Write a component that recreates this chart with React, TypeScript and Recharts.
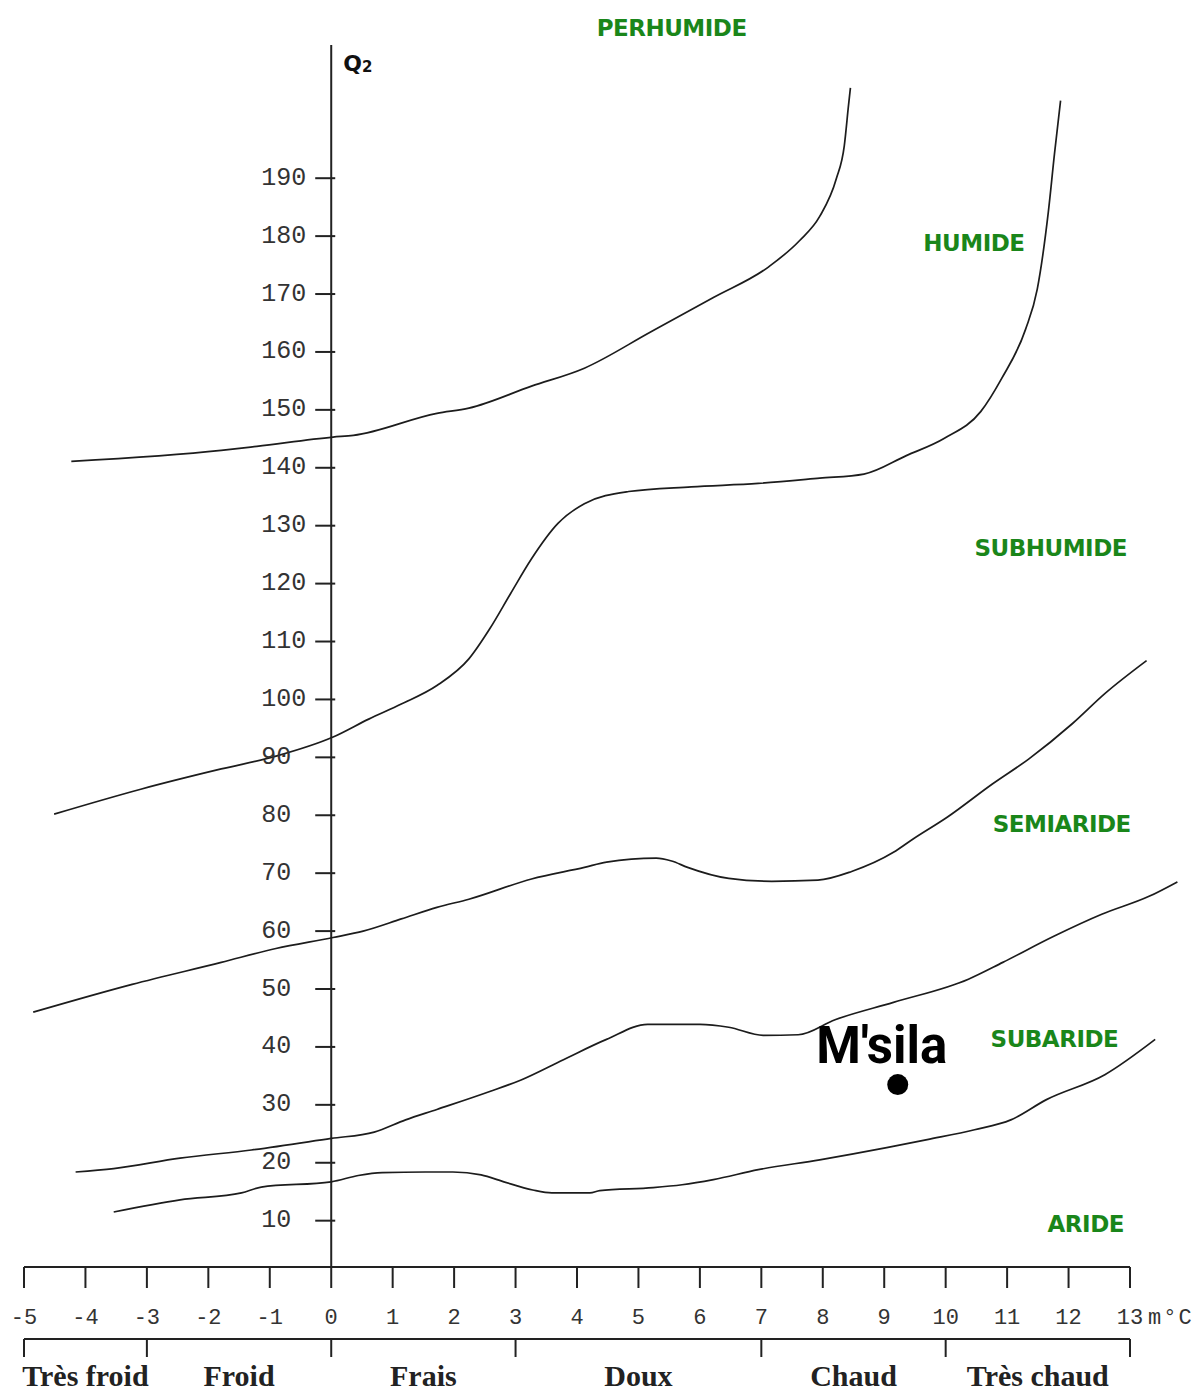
import React from "react";
import { ComposedChart, Line, Scatter, XAxis, YAxis, ReferenceLine } from "recharts";

// Emberger climagram: Q2 against m (mean minimum of the coldest month, °C)

// boundary between perhumid and humid
const perhumideM = [-4.23, -1.79, -1.21, 0.03, 0.36, 1.72, 2.24, 3.26, 4.12, 5.19, 6.22, 7.12, 7.62, 7.95, 8.22, 8.35, 8.42, 8.45];
const perhumideQ = [141.1, 143.0, 143.7, 145.3, 145.6, 149.4, 150.3, 154.1, 157.2, 163.4, 169.4, 174.7, 179.2, 183.4, 189.9, 195.6, 202.7, 205.6];

// humid / subhumid
const humideM = [-4.51, -3.1, -1.79, -0.9, 0.03, 0.61, 1.14, 1.72, 2.24, 2.58, 2.92, 3.26, 3.69, 4.12, 4.84, 5.86, 6.95, 7.95, 8.67, 9.36, 9.98, 10.57, 10.91, 11.3, 11.49, 11.67, 11.77, 11.87];
const humideQ = [80.2, 84.5, 88.0, 90.2, 93.5, 96.6, 99.2, 102.4, 107.0, 112.2, 118.3, 124.3, 130.4, 133.8, 135.9, 136.7, 137.3, 138.2, 138.9, 142.1, 145.1, 149.7, 155.4, 163.9, 170.8, 184.1, 194.1, 203.4];

// subhumid / semi-arid
const subhumideM = [-4.85, -3.24, -1.79, -0.9, 0.03, 0.52, 1.14, 1.72, 2.24, 3.26, 4.12, 4.48, 5.29, 5.54, 5.8, 6.47, 7.17, 7.92, 8.47, 9.15, 9.47, 10.03, 10.76, 11.35, 12.06, 12.59, 13.27];
const subhumideQ = [46.0, 50.8, 54.6, 57.0, 58.9, 60.0, 62.1, 64.1, 65.5, 69.0, 71.0, 71.9, 72.6, 72.1, 71.0, 69.1, 68.6, 68.8, 70.3, 73.6, 75.9, 79.7, 85.4, 89.7, 95.8, 101.0, 106.7];

// semi-arid / subarid
const semiarideM = [-4.16, -3.54, -2.46, -1.3, 0, 0.7, 1.21, 1.72, 2.58, 3.09, 3.78, 4.48, 5.15, 6.0, 6.47, 7.03, 7.6, 8.2, 9.15, 10.37, 10.93, 11.76, 12.54, 13.31, 13.77];
const semiarideQ = [18.4, 19.0, 20.8, 22.2, 24.2, 25.3, 27.4, 29.2, 32.3, 34.3, 37.8, 41.3, 43.9, 43.9, 43.4, 42.0, 42.1, 44.7, 47.7, 51.7, 54.6, 59.1, 62.9, 66.0, 68.5];

// subarid / arid
const subarideM = [-3.54, -2.46, -1.46, -1.14, 0, 0.44, 0.83, 1.53, 1.98, 2.44, 2.81, 3.28, 3.59, 4.21, 4.37, 5.24, 5.71, 6.22, 6.95, 7.95, 9.04, 9.7, 10.47, 11.06, 11.64, 12.59, 13.41];
const subarideQ = [11.5, 13.6, 14.8, 15.8, 16.7, 17.8, 18.3, 18.4, 18.4, 17.9, 16.7, 15.3, 14.8, 14.8, 15.2, 15.7, 16.2, 17.1, 18.8, 20.5, 22.6, 24.0, 25.7, 27.4, 30.9, 35.2, 41.3];

// station
const stationName = "M'sila";
const stationM = 9.22;
const stationQ = 33.5;

// bioclimatic stage names and where they sit
const stageNames = ["PERHUMIDE", "HUMIDE", "SUBHUMIDE", "SEMIARIDE", "SUBARIDE", "ARIDE"];
const stageM = [5.54, 10.46, 11.71, 11.89, 11.77, 12.28];
const stageQ = [216, 178.8, 126.1, 78.5, 41.3, 9.4];

// axes
const mTicks = [-5, -4, -3, -2, -1, 0, 1, 2, 3, 4, 5, 6, 7, 8, 9, 10, 11, 12, 13];
const qTicks = [10, 20, 30, 40, 50, 60, 70, 80, 90, 100, 110, 120, 130, 140, 150, 160, 170, 180, 190];
const winterBounds = [-5, -3, 0, 3, 7, 10, 13];
const winterNames = ["Très froid", "Froid", "Frais", "Doux", "Chaud", "Très chaud"];
const winterMids = winterBounds.slice(1).map((b, i) => (winterBounds[i] + b) / 2);

const toPoints = (m: number[], q: number[]) => m.map((v, i) => ({ m: v, q: q[i] }));

const curves = [
  toPoints(perhumideM, perhumideQ),
  toPoints(humideM, humideQ),
  toPoints(subhumideM, subhumideQ),
  toPoints(semiarideM, semiarideQ),
  toPoints(subarideM, subarideQ),
];

// chart-level rows so the winter scale axes get a domain
const winterRows = winterBounds.map((m) => ({ m }));
const qTickData = qTicks.map((q) => ({ m: 0, q }));
const stageData = stageNames.map((name, i) => ({ m: stageM[i], q: stageQ[i], name }));
const stationData = [{ m: stationM, q: stationQ, name: stationName }];

// bottom axes stack in id order: m scale, winter boundaries, winter names
const M_AXIS = 0;
const BOUNDS_AXIS = 1;
const NAMES_AXIS = 2;

const mono = "'Liberation Mono', 'DejaVu Sans Mono', monospace";
const ink = "#222";

const QTick = (props: any) => {
  const { cx, cy, payload } = props;
  return (
    <g>
      <line x1={cx - 16} y1={cy} x2={cx + 4} y2={cy} stroke={ink} strokeWidth={2} />
      <text x={cx - 70} y={cy} dominantBaseline="central" fontFamily={mono} fontSize={25} fill="#333">
        {payload.q}
      </text>
    </g>
  );
};

const StageLabel = (props: any) => (
  <text
    x={props.cx}
    y={props.cy}
    textAnchor="middle"
    dominantBaseline="central"
    fontFamily="'DejaVu Sans', sans-serif"
    fontWeight="bold"
    fontSize={23}
    fill="#1a861a"
    letterSpacing={-0.5}
  >
    {props.payload.name}
  </text>
);

const StationMark = (props: any) => (
  <g>
    <circle cx={props.cx} cy={props.cy} r={10.5} fill="#000" />
    <text
      x={props.cx - 16}
      y={props.cy - 22}
      textAnchor="middle"
      fontFamily="Roboto, sans-serif"
      fontWeight={700}
      fontSize={51}
      fill="#000"
    >
      {props.payload.name}
    </text>
  </g>
);

const QTitle = (props: any) => {
  const vb = props.viewBox || { x: 0, y: 0 };
  return (
    <text x={vb.x + 12} y={vb.y + 26} fontFamily="'DejaVu Sans', sans-serif" fontWeight="bold" fontSize={22} fill="#111">
      Q
      <tspan fontSize={15} dy={1}>2</tspan>
    </text>
  );
};

const UnitLabel = (props: any) => {
  const vb = props.viewBox || { x: 0, y: 0, width: 0 };
  return (
    <text x={vb.x + vb.width + 18} y={vb.y + 57} fontFamily={mono} fontSize={22} fill="#333" letterSpacing={2}>
      m°C
    </text>
  );
};

export default function App() {
  return (
    <div style={{ width: 1198, height: 1396, background: "#fff" }}>
      <style>{`body{margin:0;overflow:hidden} [clip-path]{clip-path:none !important}`}</style>
      <ComposedChart width={1198} height={1396} data={winterRows} margin={{ top: 45, right: 68, bottom: 0, left: 24 }}>
        <XAxis
          xAxisId={M_AXIS}
          dataKey="m"
          type="number"
          domain={[-5, 13]}
          allowDataOverflow
          ticks={mTicks}
          interval={0}
          height={72}
          tickSize={21}
          tickMargin={20}
          axisLine={{ stroke: ink, strokeWidth: 2 }}
          tickLine={{ stroke: ink, strokeWidth: 2 }}
          tick={{ fontFamily: mono, fontSize: 22, fill: "#333" }}
          label={UnitLabel}
        />
        <XAxis
          xAxisId={BOUNDS_AXIS}
          dataKey="m"
          type="number"
          domain={[-5, 13]}
          allowDataOverflow
          ticks={winterBounds}
          interval={0}
          height={20}
          tickSize={18}
          axisLine={{ stroke: ink, strokeWidth: 2 }}
          tickLine={{ stroke: ink, strokeWidth: 2 }}
          tickFormatter={() => ""}
        />
        <XAxis
          xAxisId={NAMES_AXIS}
          dataKey="m"
          type="number"
          domain={[-5, 13]}
          allowDataOverflow
          ticks={winterMids}
          interval={0}
          height={37}
          tickSize={0}
          tickMargin={6}
          axisLine={false}
          tickLine={false}
          tick={{ fontFamily: "'Liberation Serif', serif", fontWeight: "bold", fontSize: 30, fill: ink }}
          tickFormatter={(_v: number, i: number) => winterNames[i]}
        />
        <YAxis yAxisId="q" type="number" domain={[2, 213]} allowDataOverflow hide />

        <ReferenceLine xAxisId={M_AXIS} yAxisId="q" x={0} stroke={ink} strokeWidth={2} label={QTitle} />

        {curves.map((pts, i) => (
          <Line
            key={i}
            xAxisId={M_AXIS}
            yAxisId="q"
            data={pts}
            dataKey="q"
            type="monotone"
            stroke="#1c1c1c"
            strokeWidth={1.7}
            dot={false}
            activeDot={false}
            isAnimationActive={false}
          />
        ))}

        <Scatter xAxisId={M_AXIS} yAxisId="q" data={qTickData} dataKey="q" shape={QTick} isAnimationActive={false} />
        <Scatter xAxisId={M_AXIS} yAxisId="q" data={stageData} dataKey="q" shape={StageLabel} isAnimationActive={false} />
        <Scatter xAxisId={M_AXIS} yAxisId="q" data={stationData} dataKey="q" shape={StationMark} isAnimationActive={false} />
      </ComposedChart>
    </div>
  );
}
